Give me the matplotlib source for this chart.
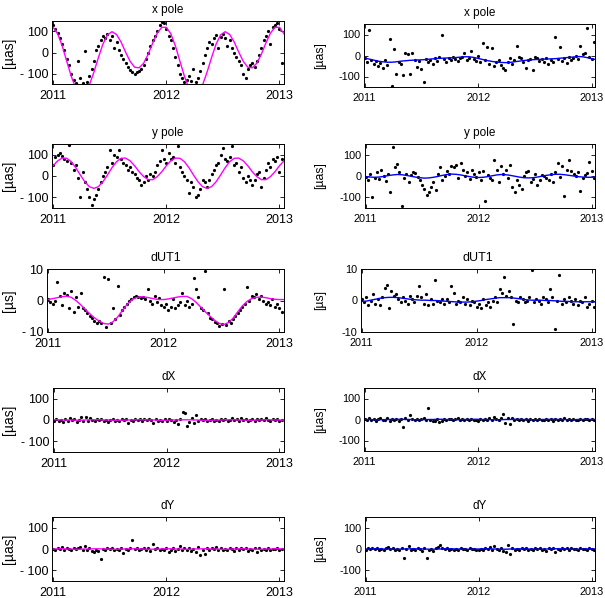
import numpy as np
import matplotlib
matplotlib.use("Agg")
import matplotlib.pyplot as plt

plt.rcParams['font.family'] = ['Liberation Sans', 'DejaVu Sans']

# observation epochs (every 0.02 yr) and epochs of the fitted curves (every 0.04 yr)
obs_epochs = 2011.0 + 0.02 * np.arange(102)
fit_epochs = 2011.0 + 0.04 * np.arange(52)

# ---- x pole ----
xp_obs_left = [
    130, 110, 95, 70, 40, 10, -30, -60, -100, -130, -145, -40, -120, -145, 5, -140, -110,
    -80, -40, 10, 30, 60, 80, 70, 90, 60, 80, 20, 50, 10, -10, -30, -50, -70,
    -85, -95, -100, -95, -90, -80, -60, -30, 0, 30, 60, 80, 100, 130, 145, 140, 110,
    80, 60, 20, -20, -60, -100, -120, -140, -130, -110, -135, -80, -140, -120, -90, -50, -10,
    20, 50, 40, 70, 85, 20, 75, 90, 70, 30, 60, 20, 0, -20, -40, -60, -100,
    -120, -80, -60, -50, -70, -40, -10, 20, 60, 80, 100, 40, 120, 130, 140, 110, -50,
]
xp_fit_left = [
    120, 89, 32, -41, -113, -170, -198, -193, -155, -94, -24, 40, 84,
    99, 86, 50, 2, -42, -70, -73, -51, -8, 45, 92, 120,
    120, 89, 32, -41, -113, -170, -198, -193, -155, -94, -24, 40, 84,
    99, 86, 50, 2, -42, -70, -73, -51, -8, 45, 92, 120, 120, 89,
]
xp_obs_right = [
    -10, -30, 120, -20, -40, -25, -50, -35, -60, -20, -45, 80, -145, 30, -90, -30, -40,
    -95, 10, 5, -90, 10, -20, -55, -25, -65, -125, -15, -30, -20, -40, -10, -25, -5,
    100, -15, -30, -10, -20, -5, -15, -25, -10, -5, 10, -20, -10, 20, -15, -25, 0,
    -30, 60, -20, 40, -40, 35, -50, -30, -20, -45, -60, -70, -30, -10, -40, -20, 45,
    -5, -10, -30, -60, -20, -15, -70, -5, -10, -25, -15, -30, -10, -40, -20, -30, 90,
    -15, 40, -25, -10, -35, -5, -20, -10, 0, -15, 45, 5, 10, 130, -5, -15, 65,
]
xp_fit_right = [
    -12, -17, -22, -27, -30, -32, -32, -30, -27, -25, -23, -22, -21,
    -20, -18, -16, -14, -13, -12, -11, -10, -8, -6, -6, -9,
    -14, -19, -24, -28, -31, -33, -34, -33, -30, -27, -24, -22, -20,
    -19, -18, -17, -16, -15, -13, -11, -9, -7, -5, -6, -10, -15, -20,
]

# ---- y pole ----
yp_obs_left = [
    50, 90, 100, 110, 95, 80, 70, 145, 60, 30, 50, -10, -100, 20, -30, -60, -100,
    -135, -110, -90, -60, -30, 0, 20, 40, 120, 60, 100, 90, 120, 80, 60, 50, 30,
    40, 20, 10, -10, -20, -40, -30, 0, -20, 10, 0, 20, 50, 70, 120, 80, 60,
    110, 80, 90, 60, 140, 40, 20, 0, -20, -80, -30, -50, -100, -90, -60, -20, -30,
    -50, -20, 10, 30, 50, 60, 100, 130, 80, 70, 90, 140, 50, 60, 20, 40, -10,
    -30, 0, -20, -40, -20, 10, 20, -50, -10, 30, 60, 40, 80, 70, 90, 20, 80,
]
yp_fit_left = [
    48, 71, 84, 83, 67, 39, 5, -27, -50, -58, -50, -27, 5,
    39, 67, 83, 84, 71, 48, 20, -3, -17, -17, -3, 20,
    48, 71, 84, 83, 67, 39, 5, -27, -50, -58, -50, -27, 5,
    39, 67, 83, 84, 71, 48, 20, -3, -17, -17, -3, 20, 48, 71,
]
yp_obs_right = [
    -5, -20, 10, -100, -10, 20, -15, 30, 0, -25, 10, -75, 135, 40, 55, 20, -140,
    -10, 10, -30, 5, 20, 15, -5, -20, -40, -60, -90, -75, -50, -30, -65, 10, 40,
    -20, 0, 25, 10, 45, 40, 50, -10, 60, 30, 0, 20, -15, 30, 10, -5, 20,
    -20, 25, -115, 5, -10, -20, 75, 30, -30, 45, 10, 30, -10, 50, -50, -75, -20,
    -40, -60, 0, 20, 25, -30, -15, 10, -40, -20, 5, 0, -10, -20, 10, -30, 20,
    60, -5, 45, -95, 30, 75, 25, 10, 0, 20, -70, -10, 5, 15, 65, 25, -10,
]
yp_fit_right = [
    -3, -5, -6, -5, -2, 2, 5, 7, 6, 3, -1, -5, -8,
    -10, -9, -6, -2, 3, 7, 9, 8, 5, 1, -3, -6,
    -7, -6, -3, 1, 5, 7, 6, 3, -1, -5, -8, -9, -8,
    -5, -1, 3, 6, 8, 8, 6, 3, 0, -3, -5, -6, -6, -5,
]

# ---- dUT1 ----
ut_obs_left = [
    0.5, -0.5, -1.0, 0.0, 6.0, 1.5, -1.5, 2.5, 1.8, -2.5, 3.0, -3.5, 1.0, -2.0, 2.5, -2.5, -3.0,
    -4.0, -5.0, -5.5, -6.5, -7.0, -6.5, -7.2, 7.4, -8.3, 6.8, -7.0, -2.5, -6.0, 4.6, -4.5, -3.0, -2.0,
    -1.0, 0.0, 0.5, 1.0, 1.5, 1.2, 0.8, 1.0, 0.5, 3.5, 0.0, -1.0, 1.5, -0.5, 0.8, -1.5, -2.0,
    -1.0, -3.0, -2.0, 0.5, -2.5, -1.5, -0.5, 2.5, -1.5, 0.0, -2.0, -1.0, 7.0, 3.5, 1.0, -2.5, -3.0,
    9.5, -4.0, -5.5, -6.0, -6.8, -7.0, -8.0, -7.5, 3.5, -7.8, -6.5, -7.0, -6.0, -5.0, -4.0, -3.0, -2.0,
    -1.0, 4.2, 0.0, 1.5, 1.0, 2.0, 0.5, 1.5, 0.0, -1.0, -0.5, -1.5, 0.5, -2.0, -1.0, -2.5, -3.5,
]
ut_fit_left = [
    0.3, 0.6, 0.9, 1.2, 1.4, 1.0, 0.0, -1.3, -2.8, -4.2, -5.5, -6.5, -7.3,
    -7.5, -6.8, -5.3, -3.3, -1.4, 0.1, 0.9, 1.2, 1.1, 0.8, 0.5, 0.3,
    0.3, 0.5, 0.8, 1.1, 1.3, 1.3, 0.6, -0.6, -2.1, -3.6, -5.0, -6.3, -7.3,
    -7.6, -7.0, -5.6, -3.6, -1.7, -0.3, 0.6, 1.0, 1.1, 0.9, 0.6, 0.4, 0.3, 0.3,
]
ut_obs_right = [
    0.5, -0.5, 1.0, -1.5, 0.0, 2.0, -1.0, 0.5, -1.5, 1.0, 4.0, 5.0, -2.5, 3.0, 1.5, 2.0, 0.5,
    -0.5, 1.0, 0.0, -1.0, 1.5, 0.5, -0.5, 1.5, 4.5, 1.0, -1.0, 2.0, -1.5, 0.5, -1.0, 6.5, 0.0,
    -0.5, 0.5, -1.0, 0.5, -0.5, 4.5, 2.5, -1.0, 0.0, -0.5, 1.0, -1.0, 0.5, -1.5, 0.0, -0.5, -2.0,
    -1.0, -2.5, 0.5, -1.5, -0.5, -2.0, 0.0, 1.0, -0.5, 3.5, 2.5, 7.5, 1.5, 3.0, 1.0, -7.5, 0.0,
    -0.5, 1.0, 0.5, -0.5, 0.0, 1.0, 9.6, -0.5, 0.5, 0.0, -1.0, 1.0, 0.5, -0.5, 3.5, 1.0, -9.0,
    0.0, 8.0, -1.0, 0.5, -0.5, 1.0, 0.0, -1.0, 0.5, -1.5, 0.0, -0.5, 1.0, -2.0, -1.0, 0.0, -2.0,
]
ut_fit_right = [
    -0.3, -0.2, 0.1, 0.4, 0.7, 0.9, 1.0, 1.0, 0.9, 0.7, 0.5, 0.3, 0.2,
    0.1, 0.1, 0.0, 0.0, -0.1, -0.2, -0.3, -0.4, -0.5, -0.5, -0.5, -0.4,
    -0.2, 0.0, 0.3, 0.5, 0.7, 0.9, 0.9, 0.9, 0.8, 0.6, 0.4, 0.2, 0.1,
    0.1, 0.1, 0.0, 0.0, -0.1, -0.2, -0.3, -0.3, -0.4, -0.4, -0.4, -0.4, -0.4, -0.5,
]

# ---- dX ----
dx_obs_left = [
    -5, 5, -3, 0, -8, 3, -5, 8, -2, 5, -10, 2, 12, -3, 15, -5, 10,
    0, -6, 4, -2, 6, -4, 2, -8, 0, 5, -3, 1, -5, 3, -2, 6, -14,
    2, -4, 4, -1, 3, -6, 5, -2, 7, 0, -12, 4, -3, 2, -5, 3, -4,
    6, -2, -8, 1, -18, 5, 39, 31, -27, -10, 10, -15, 23, -5, 3, -2, 4,
    -6, 0, 5, -3, 2, -4, 6, -1, 3, -5, 2, 8, -2, 4, -3, 9, 0,
    5, -4, 2, 7, -3, 4, -1, 6, -2, 10, 0, -5, 3, -2, 4, -3, 1,
]
dx_fit_left = [
    1, 1, 0, 0, 0, -1, -1, 0, 1, 1, 1, 0, 0,
    -1, -1, -1, 0, 0, 1, 1, 1, 0, 0, -1, -1,
    -1, 0, 0, 1, 1, 1, 0, 0, -1, -1, -1, 0, 0,
    1, 1, 1, 0, 0, -1, -1, 0, 0, 1, 1, 0, 0, -1,
]
dx_obs_right = [
    3, -4, 5, -2, 4, -5, 2, 6, -3, 0, 5, -6, 2, -3, 4, -8, 1,
    -35, 6, -2, 20, 3, -1, 4, -4, 2, 5, -3, 55, 0, -5, -8, 2, -12,
    -6, 3, -2, 1, 4, -3, 2, 5, -1, 3, -4, 2, -2, 4, -3, 0, -5,
    2, -3, 3, -2, 8, -4, 10, 2, -3, 5, 25, -15, 8, -20, 6, -4, 2,
    -2, 4, -3, 1, -5, 3, -1, 2, -4, 4, -2, 0, 3, -3, 2, -8, 4,
    -2, 3, -1, 5, -3, 2, -2, 4, 0, -4, 3, -2, 1, 4, -3, 2, -4,
]
dx_fit_right = [
    0, 0, -1, -1, -1, 0, 0, 1, 1, 0, 0, -1, -1,
    -1, 0, 0, 1, 1, 0, 0, -1, -1, 0, 0, 1,
    1, 0, 0, -1, -1, -1, 0, 0, 1, 1, 0, 0, -1,
    -1, 0, 0, 1, 1, 0, 0, -1, -1, 0, 0, 1, 0, 0,
]

# ---- dY ----
dy_obs_left = [
    2, -3, 5, -2, 8, -4, 3, 0, -6, 4, -2, 6, 10, -3, 12, -5, 3,
    -8, -12, -4, -10, -48, 2, -5, 4, -2, 5, -3, 1, -6, 3, -19, 2, -4,
    5, 43, -2, 3, -5, 1, 4, -3, 6, -8, 23, -2, 3, -4, 2, -6, 4,
    -12, -3, 5, -8, 2, 12, -5, 3, -3, 6, -10, 2, -14, 10, -27, -5, -22,
    4, -3, 5, -2, 8, -4, 3, -6, 2, -3, 4, -1, -8, 3, -4, 5, -2,
    6, -9, 2, -4, 5, -12, 3, -6, 2, -3, 4, -5, 1, -2, 3, -4, 2,
]
dy_fit_left = [
    0, 1, 1, 0, 0, -1, -1, 0, 0, 1, 1, 0, 0,
    -1, -1, 0, 0, 1, 1, 0, 0, -1, -1, 0, 0,
    1, 1, 0, 0, -1, -1, 0, 0, 1, 1, 0, 0, -1,
    -1, 0, 0, 1, 1, 0, 0, -1, -1, 0, 0, 1, 1, 0,
]
dy_obs_right = [
    -3, 4, 0, 6, -2, 5, -4, 2, -6, 3, 8, -2, 5, -5, 2, -3, 4,
    -40, 0, 15, -4, 2, -6, 3, -2, -8, 4, -40, -5, 2, -10, 5, 8, 20,
    3, -2, 4, -3, 1, -5, 2, -3, 4, -2, 0, -4, 3, -2, 2, -5, -3,
    2, -6, 4, -2, 10, -4, 12, 2, -5, 3, -8, -15, 20, -22, 4, -3, 2,
    -5, 3, -2, 5, -4, 1, -3, 4, -2, 3, -4, 0, -10, 3, -2, 4, -15,
    2, -3, 5, -2, 3, -4, 6, -2, 1, -5, 3, -2, 2, -4, 3, -2, -5,
]
dy_fit_right = [
    0, 0, 1, 1, 0, 0, -1, -1, 0, 0, 1, 1, 0,
    0, -1, -1, 0, 0, 1, 1, 0, 0, -1, -1, 0,
    0, 1, 1, 0, 0, -1, -1, 0, 0, 1, 1, 0, 0,
    -1, -1, 0, 0, 1, 1, 0, 0, -1, -1, 0, 0, 1, 0,
]

titles = ['x pole', 'y pole', 'dUT1', 'dX', 'dY']
units = ['[µas]', '[µas]', '[µs]', '[µas]', '[µas]']
year_ticks = [2011, 2012, 2013]

# (left, top, right, bottom) of each axes box in pixels
boxes_left = [(52, 21, 284, 84), (52, 144, 284, 208), (47, 269, 284, 332),
              (53, 388, 284, 452), (52, 517, 284, 581)]
boxes_right = [(364, 24, 595, 87), (365, 144, 595, 208), (361, 269, 595, 332),
               (364, 388, 595, 451), (365, 517, 595, 581)]

panels_left = [(xp_obs_left, xp_fit_left), (yp_obs_left, yp_fit_left), (ut_obs_left, ut_fit_left),
               (dx_obs_left, dx_fit_left), (dy_obs_left, dy_fit_left)]
panels_right = [(xp_obs_right, xp_fit_right), (yp_obs_right, yp_fit_right), (ut_obs_right, ut_fit_right),
                (dx_obs_right, dx_fit_right), (dy_obs_right, dy_fit_right)]

W, H = 605, 598
fig = plt.figure(figsize=(W / 100, H / 100), dpi=100)


def make_axes(box):
    l, t, r, b = box
    return fig.add_axes([l / W, 1 - b / H, (r - l) / W, (b - t) / H])


for side, boxes, panels, color in [('left', boxes_left, panels_left, '#ff00ff'),
                                    ('right', boxes_right, panels_right, '#0000ff')]:
    for k in range(5):
        box = boxes[k]
        ax = make_axes(box)
        obs, fit = panels[k]
        ax.plot(obs_epochs, obs, 'o', color='black', ms=2.3, mew=0)
        ax.plot(fit_epochs, fit, '-', color=color, lw=1.0)

        if side == 'left':
            ax.set_xlim(2010.99, 2013.04)
            ticksize, labsize = 9, 10
            neg = '- '
            label_edge = 16
        else:
            ax.set_xlim(2010.995, 2013.03)
            ticksize, labsize = 7.8, 8.8
            neg = '-'
            label_edge = 326
        if titles[k] == 'dUT1':
            ax.set_ylim(-10, 10)
            ax.set_yticks([-10, 0, 10])
            ax.set_yticklabels([neg + '10', '0', '10'])
        else:
            ax.set_ylim(-150, 150)
            ax.set_yticks([-100, 0, 100])
            ax.set_yticklabels([neg + '100', '0', '100'])
        ax.set_xticks(year_ticks)
        ax.set_xticklabels([str(y) for y in year_ticks])

        ax.tick_params(direction='in', top=True, right=True, length=3, width=0.6,
                       labelsize=ticksize)
        ax.tick_params(axis='y', pad=2.5)
        ax.tick_params(axis='x', pad=4.5)
        for sp in ax.spines.values():
            sp.set_linewidth(0.7)
        ax.set_title(titles[k], fontsize=9 if titles[k] == 'dUT1' else 8.5, pad=5.5)
        ax.set_ylabel(units[k], fontsize=labsize)
        ax.yaxis.set_label_coords((label_edge - box[0]) / (box[2] - box[0]), 0.5)

fig.savefig('out.png', dpi=100)
